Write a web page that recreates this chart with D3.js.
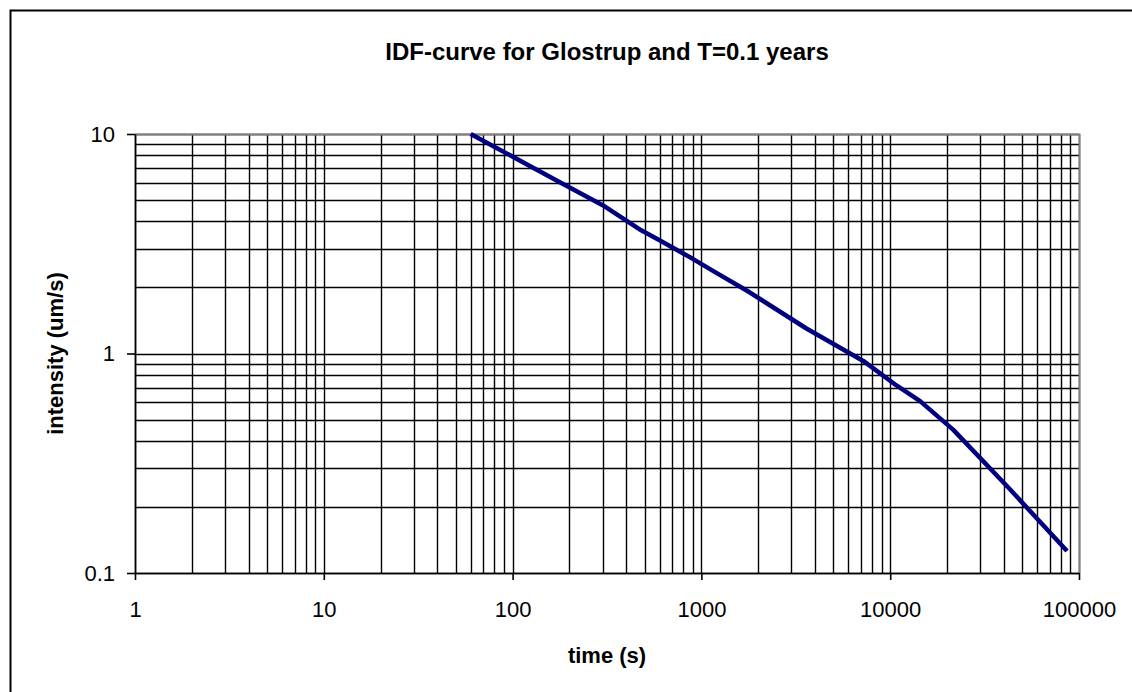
<!DOCTYPE html>
<html>
<head>
<meta charset="utf-8">
<script src="https://cdn.jsdelivr.net/npm/d3@7"></script>
<style>
  body { margin: 0; background: #fff; }
  svg { display: block; font-family: Arial, "Liberation Sans", sans-serif; }
</style>
</head>
<body>
<div id="chart"></div>
<script>
// durations (s) and intensities (um/s)
const times = [60, 120, 180, 300, 480, 600, 900, 1200, 1800, 3600, 7200, 10800, 14400, 21600, 43200, 86400]
const intensities = [10, 7.25, 6.0, 4.74, 3.64, 3.28, 2.70, 2.33, 1.90, 1.30, 0.925, 0.715, 0.607, 0.449, 0.240, 0.126]

const xTicks = [1, 10, 100, 1000, 10000, 100000]
const yTicks = [0.1, 1, 10]

const titleText = "IDF-curve for Glostrup and T=0.1 years"
const xTitle = "time (s)"
const yTitle = "intensity (um/s)"

const W = 1132, H = 692
const margin = {top: 134, right: 53, bottom: 119, left: 135}
const width = W - margin.left - margin.right,
      height = H - margin.top - margin.bottom

const svg = d3.select("#chart").append("svg")
    .attr("width", W).attr("height", H)

// outer frame (right/bottom run off the picture)
svg.append("path")
    .attr("d", "M10.5," + (H + 5) + "V10.5H" + (W + 5))
    .attr("fill", "none").attr("stroke", "#000").attr("stroke-width", 2)

svg.append("text")
    .attr("x", margin.left + width / 2).attr("y", 60)
    .attr("text-anchor", "middle")
    .style("font-size", "24px").style("font-weight", "bold")
    .text(titleText)

const g = svg.append("g").attr("transform", "translate(" + margin.left + "," + margin.top + ")")

const x = d3.scaleLog().domain([1, 100000]).range([0, width])
const y = d3.scaleLog().domain([0.1, 10]).range([height, 0])

// grid lines: every 1..9 of each decade
g.append("g").selectAll("line")
    .data(x.ticks())
    .enter().append("line")
    .attr("x1", d => Math.round(x(d)) + 0.5).attr("x2", d => Math.round(x(d)) + 0.5)
    .attr("y1", 0).attr("y2", height)
    .attr("stroke", "#000").attr("stroke-width", 1.4)

g.append("g").selectAll("line")
    .data(y.ticks())
    .enter().append("line")
    .attr("y1", d => Math.round(y(d)) + 0.5).attr("y2", d => Math.round(y(d)) + 0.5)
    .attr("x1", 0).attr("x2", width)
    .attr("stroke", "#000").attr("stroke-width", 1.4)

// plot area top/right border in grey
g.append("path")
    .attr("d", "M0,0.5H" + (width + 0.5) + "V" + height)
    .attr("fill", "none").attr("stroke", "#808080").attr("stroke-width", 1.8)

// axes
const xAxis = g.append("g")
    .attr("transform", "translate(0," + height + ")")
    .call(d3.axisBottom(x).tickValues(xTicks).tickFormat(d3.format("d")).tickSize(7).tickSizeOuter(0).tickPadding(21))
const yAxis = g.append("g")
    .call(d3.axisLeft(y).tickValues(yTicks).tickFormat(d => d).tickSize(8).tickSizeOuter(0).tickPadding(12))

xAxis.selectAll("line, path").attr("stroke", "#000").attr("stroke-width", 1.6)
yAxis.selectAll("line, path").attr("stroke", "#000").attr("stroke-width", 1.6)
xAxis.selectAll("text").style("font-size", "22px").attr("fill", "#000")
yAxis.selectAll("text").style("font-size", "22px").attr("fill", "#000")

// curve
const line = d3.line()
    .x((d, i) => x(times[i]))
    .y(d => y(d))

g.append("path")
    .datum(intensities)
    .attr("d", line)
    .attr("fill", "none")
    .attr("stroke", "#000080")
    .attr("stroke-width", 4.5)
    .attr("stroke-linejoin", "round")

svg.append("text")
    .attr("x", margin.left + width / 2).attr("y", 663)
    .attr("text-anchor", "middle")
    .style("font-size", "22px").style("font-weight", "bold")
    .text(xTitle)

svg.append("text")
    .attr("transform", "translate(63," + (margin.top + height / 2) + ") rotate(-90)")
    .attr("text-anchor", "middle")
    .style("font-size", "22px").style("font-weight", "bold")
    .text(yTitle)
</script>
</body>
</html>
